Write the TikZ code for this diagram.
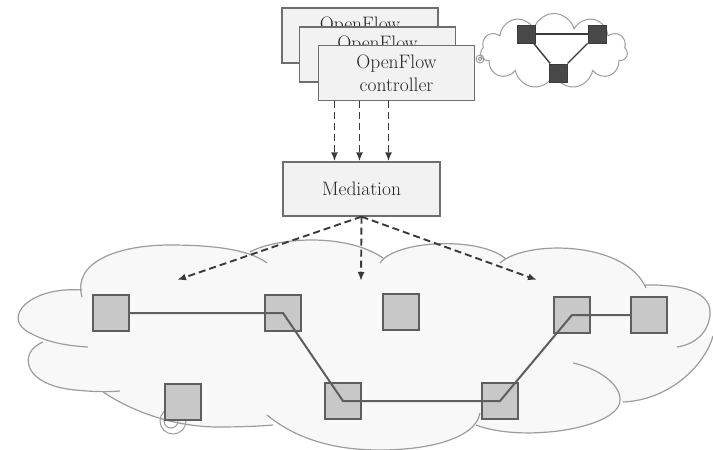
\documentclass[tikz,border=0pt]{standalone}
\usepackage{tikz}
\usetikzlibrary{arrows.meta,shapes.symbols}

\definecolor{boxfill}{HTML}{F2F2F2}
\definecolor{boxline}{HTML}{6E6E6E}
\definecolor{inkgray}{HTML}{3A3A3A}
\definecolor{textgray}{HTML}{262626}
\definecolor{cloudfill}{HTML}{F8F8F8}
\definecolor{cloudline}{HTML}{9C9C9C}
\definecolor{switchfill}{HTML}{C8C8C8}
\definecolor{switchline}{HTML}{5E5E5E}
\definecolor{darkfill}{HTML}{484848}

% outline pieces of the big cloud
\def\puffs{%
  {(82,297) .. controls (72,262) and (118,245) .. (170,245) .. controls (215,245) and (250,250) .. (267,263)},%
  {(250,252) .. controls (275,238) and (345,232) .. (383,258)},%
  {(380,263) .. controls (395,240) and (480,236) .. (506,259)},%
  {(500,263) .. controls (525,240) and (625,240) .. (646,288)},%
  {(644,285) .. controls (690,284) and (712,295) .. (710,315) .. controls (708,335) and (692,345) .. (677,347)},%
  {(713,336) .. controls (705,365) and (670,400) .. (623,402)},%
  {(573,363) .. controls (605,370) and (625,390) .. (619,405) .. controls (608,430) and (520,442) .. (476,425)},%
  {(267,415) .. controls (300,442) and (340,450) .. (380,450) .. controls (430,450) and (476,438) .. (480,413)},%
  {(103,392) .. controls (130,410) and (170,426) .. (215,427) .. controls (245,427) and (262,426) .. (273,425)},%
  {(43,342) .. controls (18,352) and (22,385) .. (75,390) .. controls (95,392) and (110,392) .. (120,391)},%
  {(82,290) .. controls (30,286) and (0,318) .. (30,333) .. controls (48,343) and (70,346) .. (88,347)}%
}

\begin{document}
\begin{tikzpicture}[x=1pt,y=-1pt,
    ctrl/.style={draw=boxline, fill=boxfill, line width=1.3pt, minimum width=156pt,
      minimum height=55pt, inner sep=0pt, align=center, text=textgray,
      font=\fontsize{19.5}{23}\selectfont},
    switch/.style={draw=switchline, fill=switchfill, line width=1.5pt, minimum size=36pt, inner sep=0pt},
    minisw/.style={draw=inkgray, fill=darkfill, line width=1pt, minimum size=18pt, inner sep=0pt},
    flow/.style={draw=inkgray, line width=1.9pt, dash pattern=on 7pt off 4pt,
      -{Latex[length=9pt,width=7pt]}},
    link/.style={draw=switchline, line width=2pt},
    curl/.style={draw=cloudline, line width=1pt}]

  \useasboundingbox (0,0) rectangle (713,450);

  %%% big cloud
  \fill[cloudfill] (82,297) -- (267,263) -- (250,252) -- (383,258) -- (380,263) -- (506,259)
    -- (500,263) -- (646,288) -- (644,285) -- (677,347) -- (713,336) -- (623,402) -- (573,363)
    -- (476,425) -- (480,413) -- (267,415) -- (273,425) -- (103,392) -- (120,391) -- (43,342)
    -- (88,347) -- (82,290) -- cycle;
  \foreach \p in \puffs {\fill[cloudfill] \p -- cycle;}
  \foreach \p in \puffs {\draw[curl, line width=1.2pt] \p;}

  \draw[curl] (173,421) circle (13pt);
  \draw[curl] (171,421) circle (7pt);

  %%% switches
  \node[switch] (s1) at (111,313) {};
  \node[switch] (s2) at (283,313) {};
  \node[switch] (s3) at (183,402) {};
  \node[switch] (s4) at (343,401) {};
  \node[switch] (s5) at (401,312) {};
  \node[switch] (s6) at (500,401) {};
  \node[switch] (s7) at (572,315) {};
  \node[switch] (s8) at (649,315) {};

  \draw[link] (s1) -- (s2.center) -- (s4.center) -- (s6.center) -- (s7.center) -- (s8);

  %%% virtual view
  \node[cloud, cloud puffs=11, aspect=2, draw=cloudline, fill=white, line width=1pt,
    minimum width=147pt, minimum height=75pt, inner sep=0pt] (view) at (554,51) {};
  \node[minisw] (n1) at (526,34) {};
  \node[minisw] (n2) at (597,34) {};
  \node[minisw] (n3) at (558,73) {};
  \draw[inkgray, line width=2.5pt] (n1) -- (n2);
  \draw[inkgray, line width=1.4pt] (n1) -- (n3) -- (n2);

  %%% controllers
  \node[ctrl] (ctrlA) at (360,35.5) {OpenFlow\\\phantom{controller}};
  \node[ctrl] (ctrlB) at (377.5,54.5) {OpenFlow\\\phantom{controller}};
  \node[ctrl] (ctrlC) at (396.5,73) {OpenFlow\\controller};
  \draw[curl] (480,59) circle (4pt);
  \draw[curl] (480,59) circle (1.8pt);

  \node[ctrl, minimum width=157pt, minimum height=54pt] (med) at (361.5,189) {Mediation};

  %%% arrows
  \foreach \dx [count=\i] in {-27,-2,27} {
    \coordinate (m\i) at ([xshift=\dx pt]med.north);
    \draw[flow] (ctrlC.south -| m\i) -- (m\i);
  }
  \coordinate (tL) at (177,280);
  \coordinate (tM) at (361,281);
  \coordinate (tR) at (537,280);
  \draw[flow] (med.south) -- (tL);
  \draw[flow] (med.south) -- (tM);
  \draw[flow] (med.south) -- (tR);

\end{tikzpicture}
\end{document}
